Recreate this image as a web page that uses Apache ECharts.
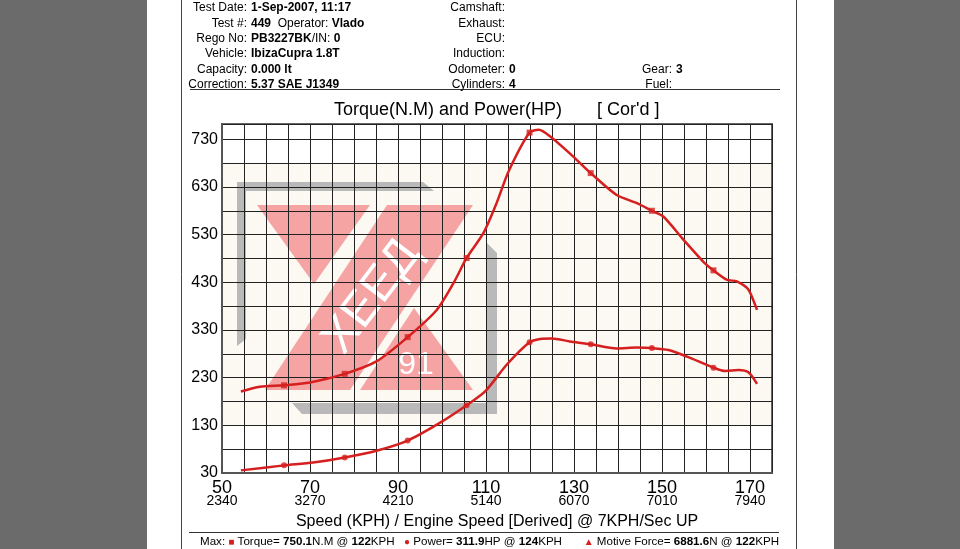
<!DOCTYPE html>
<html><head><meta charset="utf-8">
<script src="https://cdn.jsdelivr.net/npm/echarts@6/dist/echarts.min.js"></script>
<style>html,body{margin:0;padding:0;background:#fff}#c{width:960px;height:549px}</style>
</head><body><div id="c"></div>
<script>
// ---- data ----
const speedTicks = [50, 70, 90, 110, 130, 150, 170];
const rpmTicks = [2340, 3270, 4210, 5140, 6070, 7010, 7940];
const yTickLabels = [30, 130, 230, 330, 430, 530, 630, 730];
const torque = [[54.3,201],[58.6,211],[64.1,214],[70,220],[77.9,238],[85.1,264],[92.2,315],[98.8,372],[102.6,428],[105.6,481],[109.4,533],[112.4,596],[115.1,662],[119.9,744],[122,750],[124.6,736],[129.1,700],[133.8,659],[139.7,613],[144.3,596],[147.7,580],[150.3,568],[154.9,519],[159.4,473],[161.7,455],[164.8,435],[167,432],[169.7,414],[171.6,372]];
const power = [[54.3,35.5],[64.1,46],[70.7,52],[77.9,62.7],[85.1,76.7],[92.2,98],[99.5,135],[105.6,172],[109.8,201],[114.7,257],[119.9,304],[122.3,311],[124.9,312],[129.1,306],[133.8,300],[139.7,291],[144.3,293],[147.7,292],[151.5,288],[155.7,274],[161.7,251],[164.4,244],[167.4,246],[169.7,241],[171.6,217]];
const markerSpeeds = [64.1, 77.9, 92.2, 105.6, 119.9, 133.8, 147.7, 161.7];

const headerLeft = [
  ['Test Date:', '{b|1-Sep-2007, 11:17}'],
  ['Test #:', '{b|449}  {n|Operator:} {b|Vlado}'],
  ['Rego No:', '{b|PB3227BK}{n|/IN:} {b|0}'],
  ['Vehicle:', '{b|IbizaCupra 1.8T}'],
  ['Capacity:', '{b|0.000 lt}'],
  ['Correction:', '{b|5.37 SAE J1349}']
];
const headerMid = [
  ['Camshaft:', ''], ['Exhaust:', ''], ['ECU:', ''], ['Induction:', ''],
  ['Odometer:', '{b|0}'], ['Cylinders:', '{b|4}']
];
const headerRight = [[4, 'Gear:', '{b|3}'], [5, 'Fuel:', '']];

const RED = '#d61f1f';
const FONT = 'Liberation Sans, Arial, sans-serif';
const NARROW = 'Liberation Sans Narrow, Liberation Sans, Arial, sans-serif';
const rowY = [8, 24, 39, 54, 70, 85];
const rich = {
  b: {fontFamily: FONT, fontSize: 12, fontWeight: 'bold', fill: '#000'},
  n: {fontFamily: FONT, fontSize: 12, fill: '#000'}
};
const richB = {
  b: {fontFamily: FONT, fontSize: 11.6, fontWeight: 'bold', fill: '#000'},
  n: {fontFamily: FONT, fontSize: 11.6, fill: '#000'},
  r: {fontFamily: FONT, fontSize: 10, fill: RED}
};

function pick(arr) { return arr.filter(p => markerSpeeds.includes(p[0])); }

const g = [];
// page background
g.push({type: 'rect', shape: {x: 0, y: 0, width: 147, height: 549}, style: {fill: '#6b6b6b'}, z: -20});
g.push({type: 'rect', shape: {x: 834, y: 0, width: 126, height: 549}, style: {fill: '#6b6b6b'}, z: -20});
g.push({type: 'line', shape: {x1: 181.5, y1: 0, x2: 181.5, y2: 549}, style: {stroke: '#444', lineWidth: 1}});
g.push({type: 'line', shape: {x1: 796.5, y1: 0, x2: 796.5, y2: 549}, style: {stroke: '#444', lineWidth: 1}});
g.push({type: 'line', shape: {x1: 190, y1: 89.5, x2: 780, y2: 89.5}, style: {stroke: '#333', lineWidth: 1}});
g.push({type: 'line', shape: {x1: 189, y1: 532.5, x2: 779, y2: 532.5}, style: {stroke: '#333', lineWidth: 1}});
// watermark
g.push({type: 'rect', shape: {x: 222, y: 163, width: 550, height: 262}, style: {fill: '#fbf9f2'}, z: -10});
g.push({type: 'polygon', shape: {points: [[237,182],[423,182],[434,191],[246,191],[246,339],[237,346]]}, style: {fill: '#b9b9b9'}, z: -9});
g.push({type: 'polygon', shape: {points: [[487,243],[497,253],[497,414],[302,414],[292,403],[487,403]]}, style: {fill: '#b9b9b9'}, z: -9});
g.push({type: 'polygon', shape: {points: [[257,205],[370,205],[314,284]]}, style: {fill: '#f5a3a3'}, z: -8});
g.push({type: 'polygon', shape: {points: [[387,205],[473,205],[350,390],[265,390]]}, style: {fill: '#f5a3a3'}, z: -8});
g.push({type: 'polygon', shape: {points: [[414,308],[473,390],[360,390]]}, style: {fill: '#f5a3a3'}, z: -8});
g.push({type: 'text', x: 372, y: 297, rotation: 0.92, style: {text: 'XEEД', fontFamily: NARROW, fontSize: 48, fill: '#fff', align: 'center', verticalAlign: 'middle'}, z: -7});
g.push({type: 'text', x: 416, y: 365, style: {text: '91', fontFamily: FONT, fontSize: 32, fill: '#fff', align: 'center', verticalAlign: 'middle'}, z: -7});
// header
headerLeft.forEach((r, i) => {
  g.push({type: 'text', style: {x: 247, y: rowY[i], text: r[0], fontFamily: FONT, fontSize: 12, fill: '#000', align: 'right', verticalAlign: 'middle'}});
  g.push({type: 'text', style: {x: 251, y: rowY[i], text: r[1], rich: rich, fontFamily: FONT, fontSize: 12, align: 'left', verticalAlign: 'middle'}});
});
headerMid.forEach((r, i) => {
  g.push({type: 'text', style: {x: 505, y: rowY[i], text: r[0], fontFamily: FONT, fontSize: 12, fill: '#000', align: 'right', verticalAlign: 'middle'}});
  if (r[1]) g.push({type: 'text', style: {x: 509, y: rowY[i], text: r[1], rich: rich, fontFamily: FONT, fontSize: 12, align: 'left', verticalAlign: 'middle'}});
});
headerRight.forEach(r => {
  g.push({type: 'text', style: {x: 672, y: rowY[r[0]], text: r[1], fontFamily: FONT, fontSize: 12, fill: '#000', align: 'right', verticalAlign: 'middle'}});
  if (r[2]) g.push({type: 'text', style: {x: 676, y: rowY[r[0]], text: r[2], rich: rich, fontFamily: FONT, fontSize: 12, align: 'left', verticalAlign: 'middle'}});
});
// title
g.push({type: 'text', style: {x: 334, y: 110, text: 'Torque(N.M) and Power(HP)', fontFamily: FONT, fontSize: 18, fill: '#000', align: 'left', verticalAlign: 'middle'}});
g.push({type: 'text', style: {x: 597, y: 110, text: "[ Cor'd ]", fontFamily: FONT, fontSize: 18, fill: '#000', align: 'left', verticalAlign: 'middle'}});
// bottom max line
g.push({type: 'text', style: {x: 200, y: 542, text: '{n|Max:} {r|■} {n|Torque=} {b|750.1}{n|N.M @ }{b|122}{n|KPH}', rich: richB, fontFamily: FONT, fontSize: 11.6, align: 'left', verticalAlign: 'middle'}});
g.push({type: 'text', style: {x: 404, y: 542, text: '{r|●} {n|Power=} {b|311.9}{n|HP @ }{b|124}{n|KPH}', rich: richB, fontFamily: FONT, fontSize: 11.6, align: 'left', verticalAlign: 'middle'}});
g.push({type: 'text', style: {x: 779, y: 542, text: '{r|▲} {n|Motive Force=} {b|6881.6}{n|N @ }{b|122}{n|KPH}', rich: richB, fontFamily: FONT, fontSize: 11.6, align: 'right', verticalAlign: 'middle'}});

const chart = echarts.init(document.getElementById('c'));
chart.setOption({
  backgroundColor: '#fff',
  animation: false,
  graphic: {elements: g},
  grid: {left: 222, right: 188, top: 124, bottom: 76, show: true, borderColor: '#666', borderWidth: 2, backgroundColor: 'transparent'},
  xAxis: {
    type: 'value', min: 50, max: 175, interval: 5,
    name: 'Speed (KPH) / Engine Speed [Derived] @ 7KPH/Sec UP',
    nameLocation: 'middle', nameGap: 40,
    nameTextStyle: {fontFamily: FONT, fontSize: 16, color: '#000'},
    axisLine: {show: true, lineStyle: {color: '#555', width: 2}},
    axisTick: {show: false},
    splitLine: {show: true, lineStyle: {color: '#222', width: 1}},
    axisLabel: {
      margin: 8,
      formatter: v => { const i = speedTicks.indexOf(v); return i < 0 ? '' : '{a|' + v + '}\n{b|' + rpmTicks[i] + '}'; },
      rich: {
        a: {fontFamily: NARROW, fontSize: 18, color: '#000', lineHeight: 14, align: 'center'},
        b: {fontFamily: NARROW, fontSize: 14, color: '#000', lineHeight: 13, align: 'center'}
      }
    }
  },
  yAxis: {
    type: 'value', min: 30, max: 762, interval: 50,
    axisLine: {show: true, lineStyle: {color: '#555', width: 2}},
    axisTick: {show: false},
    splitLine: {show: true, lineStyle: {color: '#222', width: 1}},
    axisLabel: {
      margin: 4, fontFamily: FONT, fontSize: 16, color: '#000',
      formatter: v => yTickLabels.includes(v) ? String(v) : ''
    }
  },
  series: [
    {name: 'Torque', type: 'line', data: torque, smooth: 0.25, showSymbol: false, lineStyle: {color: RED, width: 2.5}, z: 3},
    {name: 'Power', type: 'line', data: power, smooth: 0.25, showSymbol: false, lineStyle: {color: RED, width: 2.5}, z: 3},
    {name: 'Torque pts', type: 'scatter', data: pick(torque), symbol: 'rect', symbolSize: 6, itemStyle: {color: RED}, z: 4},
    {name: 'Power pts', type: 'scatter', data: pick(power), symbol: 'circle', symbolSize: 6, itemStyle: {color: RED}, z: 4}
  ]
});
</script>
</body></html>
